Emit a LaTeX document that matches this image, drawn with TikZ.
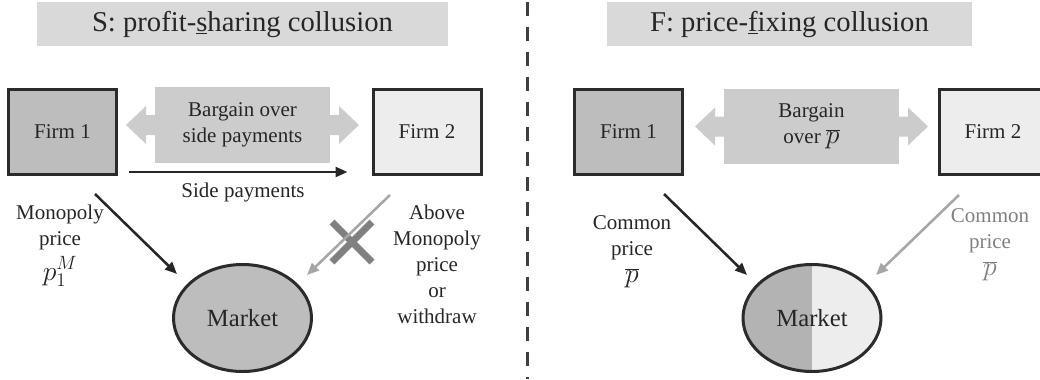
\documentclass[tikz,border=0pt]{standalone}
\usepackage{fontspec}
\setmainfont{Liberation Serif}
\usetikzlibrary{arrows.meta,shapes.geometric}
\definecolor{txtdark}{HTML}{262626}
\definecolor{hdrfill}{HTML}{D9D9D9}
\definecolor{firmafill}{HTML}{BDBDBD}
\definecolor{firmbfill}{HTML}{EDEDED}
\definecolor{bargfill}{HTML}{CCCCCC}
\definecolor{halffill}{HTML}{B3B3B3}
\definecolor{edgedark}{HTML}{2B2B2B}
\definecolor{greyarr}{HTML}{A6A6A6}
\definecolor{crossgrey}{HTML}{808080}
\definecolor{greytxt}{HTML}{7F7F7F}
\definecolor{divgrey}{HTML}{404040}
\newcommand{\pxl}{0.75pt}
\newcommand{\pricem}[1]{{\fontsize{20}{20}\selectfont$#1$}}

\begin{document}
\begin{tikzpicture}[
  x=0.75pt, y=-0.75pt,
  font=\fontsize{15.75}{19.5}\selectfont, text=txtdark,
  header/.style={fill=hdrfill, minimum height=44*\pxl, inner sep=0pt, outer sep=0pt,
                 font=\fontsize{21.5}{26}\selectfont},
  firm/.style={draw=edgedark, line width=2.25pt, inner sep=0pt, outer sep=0pt,
               minimum width=108*\pxl, minimum height=85*\pxl},
  barg/.style={fill=bargfill, inner sep=0pt, outer sep=0pt, align=center,
               minimum width=175*\pxl, minimum height=76*\pxl},
  market/.style={ellipse, draw=edgedark, line width=2.25pt, inner sep=0pt, outer sep=0pt,
                 minimum width=138*\pxl, minimum height=107*\pxl,
                 font=\fontsize{18.5}{22}\selectfont},
  lbl/.style={align=center, inner sep=0pt},
  arr/.style={-{Triangle[length=9pt, width=7.5pt]}, line width=1.9pt, draw=txtdark},
  arrg/.style={-{Triangle[length=9pt, width=7.5pt]}, line width=1.9pt, draw=greyarr},
  xmark/.style={crossgrey, line width=5.25pt},
]
\useasboundingbox (0,0) rectangle (1040,379);

% ---------------- S: profit-sharing ------------------------------
\node[header, minimum width=411*\pxl] (titleS) at (242.5,24)
  {S: profit-\underline{s}haring collusion};
\node[firm, fill=firmafill] (firmSa) at (62.5,132) {Firm 1};
\node[firm, fill=firmbfill] (firmSb) at (427,132) {Firm 2};
\node[barg] (bargS) at (242.5,125) {Bargain over\\side payments};
\node[market, fill=firmafill] (marketS) at (242.5,318) {Market};

\draw[arr] ([shift={(12.5,-2.5)}]firmSa.south east) -- ([shift={(-25.5,-2.5)}]firmSb.south west);
\node[lbl] (sideS) at (243,192) {Side payments};

\draw[arr] ([shift={(32.5,19.5)}]firmSa.south) -- ([shift={(-65.5,-44)}]marketS.center);
\node[lbl] (monoS) at (60,246) {Monopoly\\price\\[4pt]\pricem{p_1^M}};

% withdrawn price of firm 2
\coordinate (xS) at (352,242);
\draw[xmark] ([shift={(-20,-20)}]xS) -- ([shift={(20,20)}]xS);
\draw[xmark] ([shift={(20,-20)}]xS) -- ([shift={(-20,20)}]xS);
\draw[arrg] ([shift={(-37,20.5)}]firmSb.south) -- ([shift={(64.5,-43)}]marketS.center);
\node[lbl] (aboveS) at (437,264) {Above\\Monopoly\\price\\or\\withdraw};

% ---------------- divider ----------------------------------------
\draw[divgrey, line width=2.6pt, dash pattern=on 10.5pt off 8.25pt] (527.5,2) -- (527.5,379);

% ---------------- F: price-fixing --------------------------------
\node[header, minimum width=365*\pxl] (titleF) at (789.5,24)
  {F: price-\underline{f}ixing collusion};
\node[firm, fill=firmafill] (firmFa) at (628.5,131.5) {Firm 1};
\node[firm, fill=firmbfill] (firmFb) at (993,132) {Firm 2};
\node[barg, minimum height=75*\pxl] (bargF) at (811.5,126.5) {Bargain\\over \pricem{\overline{p}}};
\node[market, fill=firmbfill,
      path picture={\fill[halffill] (path picture bounding box.south west)
                    rectangle (path picture bounding box.north);}] (marketF) at (812,318) {Market};

\draw[arr] ([shift={(35.5,20)}]firmFa.south) -- ([shift={(-65,-43)}]marketF.center);
\node[lbl] (commonFa) at (632,252) {Common\\price\\[1pt]\pricem{\overline{p}}};
\draw[arrg] ([shift={(-34,20.5)}]firmFb.south) -- ([shift={(64,-43)}]marketF.center);
\node[lbl, text=greytxt] (commonFb) at (990,245) {Common\\price\\[1pt]\pricem{\overline{p}}};

% arrow ends of the bargaining boxes
\foreach \b in {bargS,bargF}
  \foreach \a/\d in {west/-1,east/1}
    \fill[bargfill] ([shift={(0,-10)}]\b.\a) -- ++(9*\d,0) -- ++(0,-9) -- ++(20*\d,19)
      -- ++(-20*\d,19) -- ++(0,-9) -- ++(-9*\d,0) -- cycle;

\end{tikzpicture}
\end{document}
